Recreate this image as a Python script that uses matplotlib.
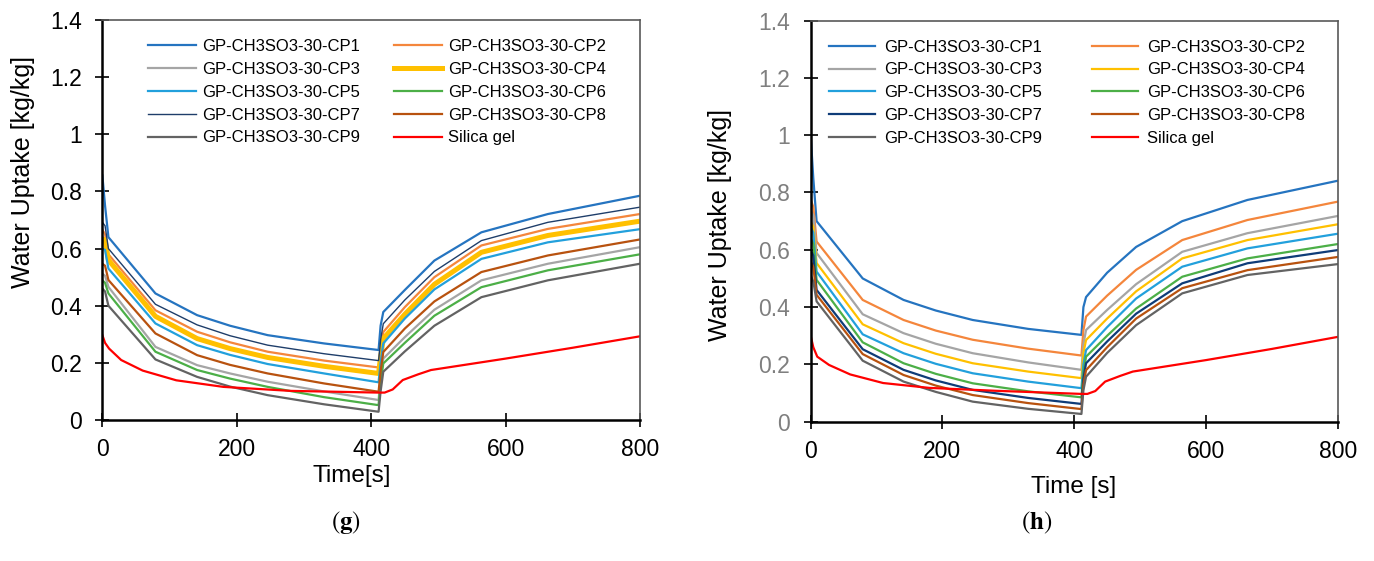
import matplotlib
matplotlib.use("Agg")
import matplotlib.pyplot as plt

plt.rcParams['font.family'] = ['Liberation Sans', 'DejaVu Sans']
plt.rcParams['mathtext.fontset'] = 'stix'

# ---------------- data ----------------
labels = ["GP-CH3SO3-30-CP1", "GP-CH3SO3-30-CP2", "GP-CH3SO3-30-CP3",
          "GP-CH3SO3-30-CP4", "GP-CH3SO3-30-CP5", "GP-CH3SO3-30-CP6",
          "GP-CH3SO3-30-CP7", "GP-CH3SO3-30-CP8", "GP-CH3SO3-30-CP9"]
silica_label = "Silica gel"

time_s = [0, 4, 9, 79, 141, 190, 246, 330, 411, 414, 418, 450, 494, 564, 663, 800]

# panel (g)
g_cp1 = [0.856, 0.75, 0.640, 0.443, 0.367, 0.330, 0.297, 0.268, 0.245, 0.330, 0.378, 0.455, 0.558, 0.657, 0.721, 0.785]
g_cp2 = [0.666, 0.650, 0.580, 0.384, 0.309, 0.272, 0.239, 0.208, 0.184, 0.250, 0.308, 0.395, 0.500, 0.611, 0.669, 0.721]
g_cp3 = [0.512, 0.505, 0.466, 0.256, 0.192, 0.163, 0.134, 0.100, 0.070, 0.150, 0.215, 0.290, 0.386, 0.489, 0.547, 0.605]
g_cp4 = [0.634, 0.630, 0.560, 0.363, 0.285, 0.250, 0.219, 0.188, 0.163, 0.220, 0.285, 0.370, 0.475, 0.587, 0.646, 0.696]
g_cp5 = [0.600, 0.595, 0.530, 0.338, 0.262, 0.228, 0.196, 0.163, 0.132, 0.200, 0.268, 0.355, 0.457, 0.564, 0.622, 0.668]
g_cp6 = [0.489, 0.480, 0.443, 0.239, 0.175, 0.145, 0.116, 0.080, 0.052, 0.130, 0.198, 0.270, 0.365, 0.465, 0.524, 0.580]
g_cp7 = [0.692, 0.680, 0.600, 0.405, 0.333, 0.295, 0.262, 0.232, 0.208, 0.280, 0.337, 0.420, 0.520, 0.628, 0.692, 0.745]
g_cp8 = [0.547, 0.540, 0.490, 0.303, 0.227, 0.193, 0.163, 0.128, 0.099, 0.170, 0.238, 0.320, 0.415, 0.518, 0.576, 0.632]
g_cp9 = [0.460, 0.450, 0.400, 0.212, 0.151, 0.117, 0.087, 0.055, 0.029, 0.100, 0.169, 0.240, 0.330, 0.430, 0.489, 0.547]

# panel (h)
h_cp1 = [1.000, 0.850, 0.700, 0.500, 0.425, 0.388, 0.355, 0.324, 0.303, 0.400, 0.435, 0.520, 0.610, 0.700, 0.774, 0.841]
h_cp2 = [0.775, 0.750, 0.629, 0.425, 0.355, 0.318, 0.286, 0.255, 0.231, 0.320, 0.367, 0.440, 0.530, 0.634, 0.704, 0.768]
h_cp3 = [0.740, 0.720, 0.589, 0.375, 0.309, 0.272, 0.239, 0.207, 0.181, 0.270, 0.320, 0.390, 0.480, 0.593, 0.658, 0.718]
h_cp4 = [0.700, 0.680, 0.554, 0.340, 0.274, 0.237, 0.204, 0.175, 0.152, 0.240, 0.285, 0.360, 0.455, 0.570, 0.634, 0.689]
h_cp5 = [0.680, 0.660, 0.524, 0.305, 0.239, 0.202, 0.169, 0.140, 0.117, 0.200, 0.250, 0.330, 0.430, 0.541, 0.605, 0.656]
h_cp6 = [0.640, 0.620, 0.495, 0.277, 0.204, 0.167, 0.134, 0.106, 0.085, 0.170, 0.227, 0.300, 0.395, 0.506, 0.570, 0.620]
h_cp7 = [0.600, 0.580, 0.460, 0.253, 0.181, 0.144, 0.111, 0.083, 0.062, 0.150, 0.204, 0.280, 0.377, 0.483, 0.553, 0.599]
h_cp8 = [0.560, 0.540, 0.443, 0.236, 0.163, 0.126, 0.093, 0.065, 0.044, 0.130, 0.180, 0.260, 0.360, 0.466, 0.529, 0.575]
h_cp9 = [0.510, 0.490, 0.420, 0.213, 0.140, 0.104, 0.070, 0.045, 0.027, 0.110, 0.157, 0.240, 0.337, 0.448, 0.512, 0.550]

# silica gel reference
silica_time = [0, 4, 10, 28, 60, 110, 180, 280, 411, 420, 432, 447, 470, 489, 600, 700, 800]
g_silica = [0.297, 0.270, 0.250, 0.210, 0.173, 0.139, 0.116, 0.102, 0.096, 0.096, 0.107, 0.140, 0.160, 0.175, 0.215, 0.253, 0.293]
h_silica = [0.300, 0.260, 0.227, 0.198, 0.165, 0.135, 0.118, 0.108, 0.097, 0.097, 0.107, 0.140, 0.160, 0.175, 0.215, 0.254, 0.296]

x_ticks = [0, 200, 400, 600, 800]
y_ticks = [0, 0.2, 0.4, 0.6, 0.8, 1.0, 1.2, 1.4]
y_ticklabels = ["0", "0.2", "0.4", "0.6", "0.8", "1", "1.2", "1.4"]

# ---------------- styles ----------------
colors = ['#2574C0', '#F4863C', '#A5A5A5', '#FFC000', '#22A0DC',
          '#4CAF47', '#1F3E6A', '#B8520F', '#636363']
g_widths = [1.6, 1.6, 1.6, 3.6, 1.6, 1.6, 1.0, 1.6, 1.6]
h_widths = [1.6] * 9
h_colors = list(colors)
h_colors[6] = '#0F3C78'

fig = plt.figure(figsize=(13.74, 5.61), dpi=100)
ax_g = fig.add_axes([0.0745, 0.2513, 0.3913, 0.7130])
ax_h = fig.add_axes([0.5900, 0.2483, 0.3836, 0.7150])


def draw(ax, series, silica, cols, widths, xlabel, tickcol, ylab_pos, ylab_size,
         xlab_pos, legend_kw):
    for lab, vals, c, w in zip(labels, series, cols, widths):
        ax.plot(time_s, vals, color=c, lw=w, label=lab, solid_joinstyle='round')
    ax.plot(silica_time, silica, color='#FF0000', lw=1.6, label=silica_label)
    ax.set_xlim(0, 800)
    ax.set_ylim(0, 1.4)
    ax.set_xticks(x_ticks)
    ax.set_yticks(y_ticks)
    ax.set_yticklabels(y_ticklabels)
    ax.tick_params(axis='both', direction='inout', length=10, width=1.2,
                   labelsize=16.5, color='black')
    ax.tick_params(axis='y', labelcolor=tickcol, pad=10)
    ax.tick_params(axis='x', pad=8)
    for s in ['left', 'bottom']:
        ax.spines[s].set_linewidth(1.8)
        ax.spines[s].set_color('black')
    for s in ['top', 'right']:
        ax.spines[s].set_linewidth(1.2)
        ax.spines[s].set_color('#595959')
    ax.set_xlabel(xlabel, fontsize=17.5)
    ax.xaxis.set_label_coords(*xlab_pos)
    ax.set_ylabel("Water Uptake [kg/kg]", fontsize=ylab_size)
    ax.yaxis.set_label_coords(*ylab_pos)
    handles, labs = ax.get_legend_handles_labels()
    order = [0, 2, 4, 6, 8, 1, 3, 5, 7, 9]
    ax.legend([handles[i] for i in order], [labs[i] for i in order],
              ncol=2, frameon=False, fontsize=12, **legend_kw)


draw(ax_g, [g_cp1, g_cp2, g_cp3, g_cp4, g_cp5, g_cp6, g_cp7, g_cp8, g_cp9],
     g_silica, colors, g_widths, "Time[s]", 'black', (-0.125, 0.62), 18,
     (0.464, -0.113),
     dict(loc='upper left', bbox_to_anchor=(0.057, 0.99), handlelength=2.9,
          handletextpad=0.35, columnspacing=2.0, labelspacing=0.47))
draw(ax_h, [h_cp1, h_cp2, h_cp3, h_cp4, h_cp5, h_cp6, h_cp7, h_cp8, h_cp9],
     h_silica, h_colors, h_widths, "Time [s]", '#7F7F7F', (-0.149, 0.49), 18,
     (0.4996, -0.135),
     dict(loc='upper left', bbox_to_anchor=(0.006, 0.99), handlelength=2.75,
          handletextpad=0.55, columnspacing=3.0, labelspacing=0.47))

fig.text(0.2518, 0.068, r'($\mathbf{g}$)', ha='center', va='center', fontsize=18,
         family='STIXGeneral')
fig.text(0.7547, 0.068, r'($\mathbf{h}$)', ha='center', va='center', fontsize=18,
         family='STIXGeneral')

fig.savefig("out.png", dpi=100)
